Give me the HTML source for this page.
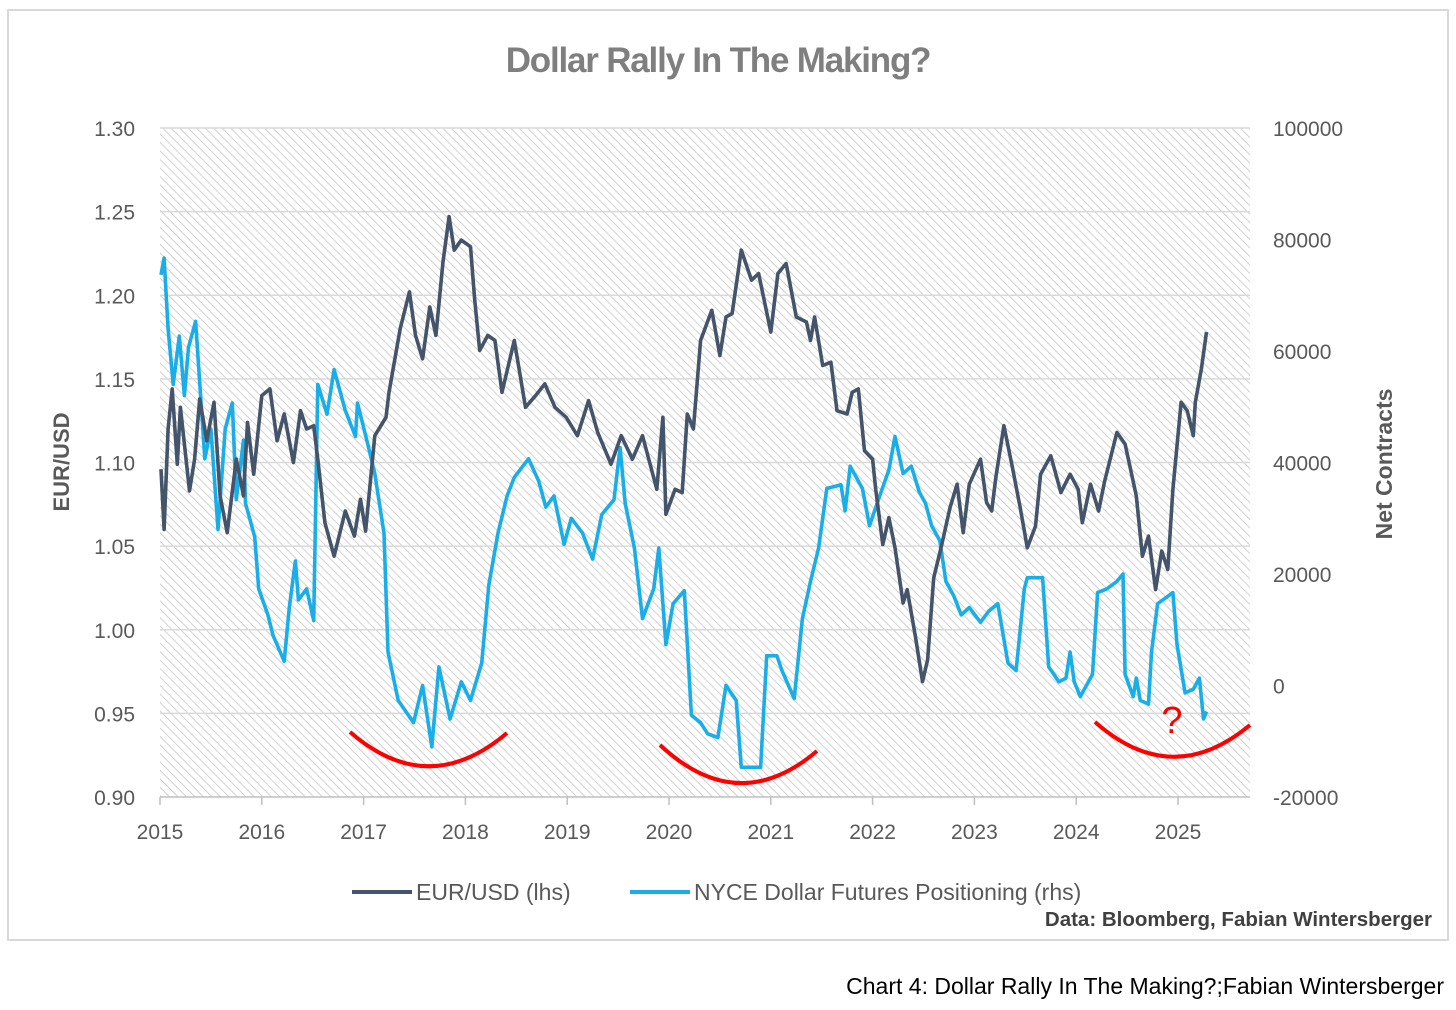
<!DOCTYPE html>
<html><head><meta charset="utf-8"><style>
html,body{margin:0;padding:0;background:#fff;}
body{width:1456px;height:1005px;position:relative;overflow:hidden;font-family:"Liberation Sans",sans-serif;}
</style></head><body>
<svg id="chart" width="1456" height="1005" xmlns="http://www.w3.org/2000/svg">
<defs>
<pattern id="hatch" patternUnits="userSpaceOnUse" width="6" height="6" patternTransform="rotate(-45)">
<rect width="6" height="6" fill="#ffffff"/>
<line x1="0" y1="0" x2="0" y2="6" stroke="#c6c6c6" stroke-width="1.6"/>
</pattern>
</defs>
<rect x="8" y="10" width="1440" height="930" fill="#fff" stroke="#d9d9d9" stroke-width="2"/>
<text x="718" y="72" text-anchor="middle" font-size="35" font-weight="bold" fill="#7f7f7f" letter-spacing="-1.2">Dollar Rally In The Making?</text>
<rect x="160" y="128" width="1090" height="669" fill="url(#hatch)"/>
<g id="grid"></g>
<g id="axes"></g>
<g id="series"></g>
<text transform="translate(69,462) rotate(-90)" text-anchor="middle" font-size="22" font-weight="bold" fill="#595959">EUR/USD</text>
<text transform="translate(1392,464) rotate(-90)" text-anchor="middle" font-size="23" font-weight="bold" fill="#595959">Net Contracts</text>
<path d="M350,732 Q428,800 507,733" fill="none" stroke="#ff0000" stroke-width="4"/>
<path d="M660,745 Q738,818 817,751" fill="none" stroke="#ff0000" stroke-width="4"/>
<path d="M1095,722 Q1172,790 1250,725" fill="none" stroke="#ff0000" stroke-width="4"/>
<text x="1172" y="733" text-anchor="middle" font-size="38" fill="#ff0000">?</text>
<line x1="352" y1="892" x2="412" y2="892" stroke="#44546a" stroke-width="4"/>
<text x="416" y="900" font-size="23" fill="#595959">EUR/USD (lhs)</text>
<line x1="630" y1="892" x2="690" y2="892" stroke="#1aaee8" stroke-width="4"/>
<text x="694" y="900" font-size="23" fill="#595959">NYCE Dollar Futures Positioning (rhs)</text>
<text x="1432" y="926" text-anchor="end" font-size="20.5" font-weight="bold" fill="#404040">Data: Bloomberg, Fabian Wintersberger</text>
<text x="1444" y="994" text-anchor="end" font-size="23" fill="#000">Chart 4: Dollar Rally In The Making?;Fabian Wintersberger</text>
</svg>
<script>
const eurDates=[2015.01,2015.04,2015.08,2015.12,2015.17,2015.20,2015.29,2015.34,2015.39,2015.46,2015.53,2015.59,2015.66,2015.75,2015.82,2015.86,2015.92,2016.00,2016.08,2016.15,2016.22,2016.31,2016.38,2016.44,2016.51,2016.55,2016.62,2016.71,2016.82,2016.91,2016.97,2017.02,2017.11,2017.22,2017.25,2017.36,2017.45,2017.51,2017.58,2017.65,2017.71,2017.78,2017.84,2017.89,2017.96,2018.05,2018.09,2018.14,2018.22,2018.29,2018.36,2018.48,2018.59,2018.69,2018.78,2018.88,2018.99,2019.10,2019.21,2019.30,2019.43,2019.53,2019.64,2019.74,2019.88,2019.94,2019.97,2020.06,2020.13,2020.18,2020.24,2020.31,2020.42,2020.50,2020.56,2020.62,2020.71,2020.81,2020.88,2021.00,2021.07,2021.15,2021.25,2021.35,2021.39,2021.43,2021.51,2021.59,2021.65,2021.75,2021.80,2021.86,2021.92,2022.00,2022.03,2022.10,2022.16,2022.22,2022.30,2022.34,2022.42,2022.49,2022.54,2022.60,2022.68,2022.76,2022.83,2022.89,2022.95,2023.06,2023.12,2023.17,2023.21,2023.29,2023.37,2023.45,2023.52,2023.60,2023.65,2023.75,2023.85,2023.94,2024.02,2024.06,2024.14,2024.22,2024.28,2024.40,2024.48,2024.59,2024.65,2024.71,2024.78,2024.84,2024.90,2024.95,2025.03,2025.09,2025.15,2025.17,2025.23,2025.28];
const eurValues=[1.096,1.060,1.120,1.144,1.099,1.133,1.083,1.102,1.138,1.113,1.136,1.080,1.058,1.102,1.080,1.124,1.093,1.140,1.144,1.113,1.129,1.100,1.131,1.120,1.122,1.102,1.064,1.044,1.071,1.056,1.078,1.059,1.116,1.127,1.142,1.180,1.202,1.176,1.162,1.193,1.176,1.220,1.247,1.227,1.233,1.229,1.198,1.167,1.176,1.173,1.142,1.173,1.133,1.140,1.147,1.133,1.127,1.116,1.137,1.118,1.099,1.116,1.102,1.116,1.084,1.127,1.069,1.084,1.082,1.129,1.120,1.173,1.191,1.164,1.187,1.189,1.227,1.209,1.213,1.178,1.213,1.219,1.187,1.184,1.173,1.187,1.158,1.160,1.131,1.129,1.142,1.144,1.107,1.102,1.084,1.051,1.067,1.049,1.016,1.024,0.996,0.969,0.982,1.031,1.051,1.073,1.087,1.058,1.087,1.102,1.076,1.071,1.091,1.122,1.098,1.073,1.049,1.062,1.093,1.104,1.082,1.093,1.084,1.064,1.087,1.071,1.089,1.118,1.111,1.080,1.044,1.056,1.024,1.047,1.036,1.084,1.136,1.131,1.116,1.136,1.156,1.178];
const posDates=[2015.01,2015.04,2015.08,2015.13,2015.19,2015.24,2015.28,2015.35,2015.44,2015.50,2015.57,2015.64,2015.71,2015.75,2015.82,2015.84,2015.93,2015.97,2016.06,2016.11,2016.22,2016.27,2016.33,2016.36,2016.44,2016.51,2016.55,2016.64,2016.71,2016.82,2016.92,2016.94,2017.04,2017.11,2017.20,2017.24,2017.34,2017.49,2017.58,2017.67,2017.74,2017.85,2017.96,2018.05,2018.16,2018.23,2018.32,2018.41,2018.48,2018.62,2018.72,2018.79,2018.87,2018.97,2019.04,2019.15,2019.25,2019.34,2019.46,2019.52,2019.57,2019.66,2019.74,2019.85,2019.90,2019.97,2020.04,2020.15,2020.22,2020.31,2020.38,2020.48,2020.56,2020.66,2020.71,2020.90,2020.96,2021.06,2021.11,2021.23,2021.31,2021.39,2021.47,2021.55,2021.69,2021.73,2021.78,2021.90,2021.97,2022.07,2022.16,2022.22,2022.30,2022.38,2022.46,2022.52,2022.58,2022.66,2022.72,2022.80,2022.87,2022.95,2023.06,2023.14,2023.23,2023.33,2023.41,2023.49,2023.52,2023.67,2023.73,2023.83,2023.90,2023.94,2023.98,2024.04,2024.16,2024.21,2024.30,2024.40,2024.46,2024.48,2024.56,2024.59,2024.63,2024.71,2024.74,2024.80,2024.90,2024.95,2024.99,2025.07,2025.15,2025.21,2025.25,2025.28];
const posValues=[73667,76667,64000,54000,62667,52000,60667,65333,40667,46000,28000,46000,50667,33333,44000,32667,26667,17333,12667,9000,4333,14000,22333,15333,17333,11667,54000,48667,56667,49333,44667,50667,43333,38000,27333,6000,-2667,-6667,0,-11000,3333,-6000,667,-2667,4000,18000,27333,34000,37333,40667,36667,32000,34000,25333,30000,27333,22667,30667,33333,42667,32667,24667,12000,17333,24667,7333,14667,17000,-5333,-6667,-8667,-9333,0,-2667,-14667,-14667,5333,5333,2667,-2333,12000,18667,24667,35333,36000,31333,39333,35333,28667,34000,38667,44667,38000,39333,34667,32667,28667,26000,18667,16000,12667,14000,11333,13333,14667,4000,2667,17333,19333,19333,3333,667,1333,6000,667,-2000,2000,16667,17333,18667,20000,2000,-2000,1333,-2667,-3333,6000,14667,16000,16667,7333,-1333,-667,1333,-6000,-4667];
const leftTicks=[0.90,0.95,1.00,1.05,1.10,1.15,1.20,1.25,1.30];
const rightTicks=[-20000,0,20000,40000,60000,80000,100000];
const yearTicks=[2015,2016,2017,2018,2019,2020,2021,2022,2023,2024,2025];

const NS='http://www.w3.org/2000/svg';
const X0=160,Y0=797,Y1=128,PXY=101.8;
const xScale=t=>X0+(t-2015)*PXY;
const yLeft=v=>Y0-(v-0.90)/(1.30-0.90)*(Y0-Y1);
const yRight=v=>Y0-(v+20000)/120000*(Y0-Y1);
function mk(tag,attrs,parent){const e=document.createElementNS(NS,tag);for(const k in attrs)e.setAttribute(k,attrs[k]);parent.appendChild(e);return e;}
const grid=document.getElementById('grid'),axes=document.getElementById('axes'),series=document.getElementById('series');
leftTicks.forEach(v=>{
  const y=yLeft(v);
  if(v>0.9){const g=mk('line',{x1:X0,x2:1250,y1:y,y2:y,stroke:'#d9d9d9','stroke-width':1.5},grid);
  
  }
  const t=mk('text',{x:135,y:y+8,'text-anchor':'end','font-size':21,fill:'#595959'},axes);
  t.textContent=v.toFixed(2);
  
  
});
rightTicks.forEach(v=>{
  const t=mk('text',{x:1273,y:yRight(v)+8,'text-anchor':'start','font-size':21,fill:'#595959'},axes);
  t.textContent=String(v);
  
  
});
const ax=mk('line',{x1:X0,x2:1250,y1:Y0,y2:Y0,stroke:'#bfbfbf','stroke-width':1.5},axes);


yearTicks.forEach(yr=>{
  const x=xScale(yr);
  const tk=mk('line',{x1:x,x2:x,y1:Y0,y2:Y0+8,stroke:'#bfbfbf','stroke-width':1.5},axes);
  
  
  const t=mk('text',{x:x,y:839,'text-anchor':'middle','font-size':21,fill:'#595959'},axes);
  t.textContent=String(yr);
  
  
});
function line(dates,vals,ys,color,name){
  const d=dates.map((t,i)=>(i?'L':'M')+xScale(t).toFixed(1)+','+ys(vals[i]).toFixed(1)).join(' ');
  const p=mk('path',{d:d,fill:'none',stroke:color,'stroke-width':3.6,'stroke-linejoin':'round'},series);
  
  
}
line(posDates,posValues,yRight,'#1aaee8','positioning-line');
line(eurDates,eurValues,yLeft,'#44546a','eurusd-line');
</script>
</body></html>
